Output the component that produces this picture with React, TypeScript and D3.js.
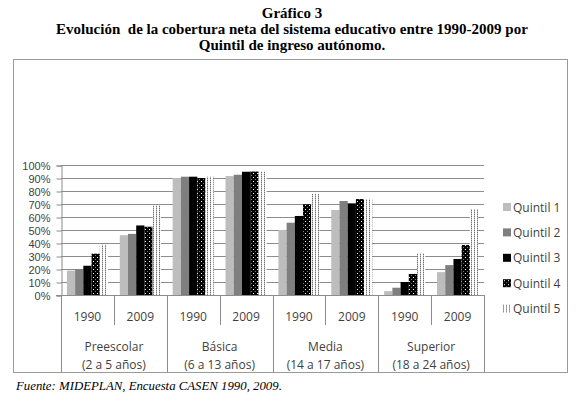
import React, { useEffect, useRef } from "react";
import * as d3 from "d3";

const levels = ["Preescolar", "Básica", "Media", "Superior"];
const levelAges = ["(2 a 5 años)", "(6 a 13 años)", "(14 a 17 años)", "(18 a 24 años)"];
const years = ["1990", "2009"];
const quintiles = ["Quintil 1", "Quintil 2", "Quintil 3", "Quintil 4", "Quintil 5"];
const yTicks = [0, 10, 20, 30, 40, 50, 60, 70, 80, 90, 100];

// one row per level/year slot, values per quintile (%)
const slotKeys = [
  "Preescolar 1990", "Preescolar 2009",
  "Básica 1990", "Básica 2009",
  "Media 1990", "Media 2009",
  "Superior 1990", "Superior 2009",
];
const quintil1 = [18.8, 46, 90, 91.5, 50, 65.4, 3, 17.6];
const quintil2 = [20, 47, 91, 92.5, 55.6, 72.3, 5.6, 23];
const quintil3 = [22.5, 53.5, 91, 94.8, 60.8, 70.5, 10, 27.7];
const quintil4 = [31.8, 52.5, 90, 95, 69.8, 73.8, 16.2, 38.5];
const quintil5 = [38.7, 69, 91, 95, 77.7, 73.8, 32, 66.2];

const seriesValues = [quintil1, quintil2, quintil3, quintil4, quintil5];
const seriesFills = ["#bdbdbd", "#7f7f7f", "#000000", "url(#pQ4)", "url(#pQ5)"];

const App = () => {
  const svgRef = useRef<SVGSVGElement>(null);

  useEffect(() => {
    drawChart();
  }, []);

  const drawChart = () => {
    const svg = d3.select(svgRef.current);
    svg.selectAll("*").remove();

    const defs = svg.append("defs");
    const p4 = defs
      .append("pattern")
      .attr("id", "pQ4")
      .attr("width", 4)
      .attr("height", 4)
      .attr("patternUnits", "userSpaceOnUse");
    p4.append("rect").attr("width", 4).attr("height", 4).attr("fill", "#000");
    p4.append("rect").attr("x", 1).attr("y", 1).attr("width", 1).attr("height", 1).attr("fill", "#fff");
    p4.append("rect").attr("x", 3).attr("y", 3).attr("width", 1).attr("height", 1).attr("fill", "#777");

    const p5 = defs
      .append("pattern")
      .attr("id", "pQ5")
      .attr("width", 3)
      .attr("height", 2)
      .attr("patternUnits", "userSpaceOnUse");
    p5.append("rect").attr("width", 3).attr("height", 2).attr("fill", "#fff");
    p5.append("rect").attr("x", 0).attr("y", 0).attr("width", 1).attr("height", 1).attr("fill", "#707070");
    p5.append("rect").attr("x", 0).attr("y", 1).attr("width", 1).attr("height", 1).attr("fill", "#c4c4c4");

    // Title
    const titleLines = [
      "Gráfico 3",
      "Evolución  de la cobertura neta del sistema educativo entre 1990-2009 por",
      "Quintil de ingreso autónomo.",
    ];
    svg
      .append("g")
      .selectAll("text")
      .data(titleLines)
      .enter()
      .append("text")
      .attr("x", 292)
      .attr("y", (d, i) => 18 + i * 16)
      .attr("text-anchor", "middle")
      .style("font-family", "'Liberation Serif', 'Times New Roman', serif")
      .style("font-weight", "bold")
      .style("font-size", "15px")
      .style("white-space", "pre")
      .text((d) => d);

    // frame
    svg
      .append("rect")
      .attr("x", 13.5)
      .attr("y", 59.5)
      .attr("width", 554)
      .attr("height", 313)
      .attr("fill", "#fff")
      .attr("stroke", "#9a9a9a");

    const left = 61;
    const right = 484;
    const top = 165;
    const bottom = 295;
    const frameBottom = 372.5;

    const x = d3.scaleBand().domain(slotKeys).range([left, right]).padding(0);
    const xq = d3.scaleBand().domain(quintiles).range([0, x.bandwidth()]).paddingInner(0).paddingOuter(0.72);
    const y = d3.scaleLinear().domain([0, 100]).range([bottom, top]);

    const textFont = "'Open Sans', 'Noto Sans', sans-serif";
    const textColor = "#3f3f3f";
    const lineColor = "#8c8c8c";

    // gridlines
    svg
      .append("g")
      .selectAll("line")
      .data(yTicks.filter((t) => t > 0))
      .enter()
      .append("line")
      .attr("x1", left)
      .attr("x2", right)
      .attr("y1", (d) => Math.round(y(d)) + 0.5)
      .attr("y2", (d) => Math.round(y(d)) + 0.5)
      .attr("stroke", lineColor);

    // y axis
    const yAxis = svg
      .append("g")
      .attr("transform", `translate(${left + 0.5},0.5)`)
      .call(
        d3
          .axisLeft(y)
          .tickValues(yTicks)
          .tickSize(5)
          .tickPadding(6)
          .tickFormat((d) => `${d}%`)
      );
    yAxis.select(".domain").attr("stroke", lineColor);
    yAxis.selectAll(".tick line").attr("stroke", lineColor);
    yAxis
      .selectAll("text")
      .style("font-family", "'Liberation Sans', Arial, sans-serif")
      .style("font-size", "11px")
      .attr("fill", textColor);

    // bars
    const barData = slotKeys.flatMap((k, si) =>
      quintiles.map((q, qi) => ({ slot: k, q, qi, value: seriesValues[qi][si] }))
    );
    svg
      .append("g")
      .selectAll("rect")
      .data(barData)
      .enter()
      .append("rect")
      .attr("x", (d) => x(d.slot)! + xq(d.q)!)
      .attr("width", xq.bandwidth())
      .attr("y", (d) => y(d.value))
      .attr("height", (d) => y(0) - y(d.value))
      .attr("fill", (d) => seriesFills[d.qi]);

    // category axis lines
    const axisG = svg.append("g");
    axisG
      .append("line")
      .attr("x1", left - 5)
      .attr("x2", right)
      .attr("y1", bottom + 0.5)
      .attr("y2", bottom + 0.5)
      .attr("stroke", lineColor);
    const boundaries = d3.range(slotKeys.length + 1);
    axisG
      .selectAll("line.sep")
      .data(boundaries)
      .enter()
      .append("line")
      .attr("class", "sep")
      .attr("x1", (d) => Math.round(left + d * x.step()) + 0.5)
      .attr("x2", (d) => Math.round(left + d * x.step()) + 0.5)
      .attr("y1", bottom)
      .attr("y2", (d) => (d % 2 === 0 ? frameBottom : 325))
      .attr("stroke", lineColor);

    // year labels
    svg
      .append("g")
      .selectAll("text")
      .data(slotKeys)
      .enter()
      .append("text")
      .attr("x", (d) => x(d)! + x.bandwidth() / 2)
      .attr("y", 321)
      .attr("text-anchor", "middle")
      .style("font-family", textFont)
      .style("font-size", "12px")
      .attr("fill", textColor)
      .text((d, i) => years[i % 2]);

    // level labels
    const lg = svg
      .append("g")
      .selectAll("g")
      .data(levels)
      .enter()
      .append("g")
      .attr("transform", (d, i) => `translate(${left + (i * 2 + 1) * x.step()},0)`);
    lg.append("text")
      .attr("y", 351)
      .attr("text-anchor", "middle")
      .style("font-family", textFont)
      .style("font-size", "12px")
      .attr("fill", textColor)
      .text((d) => d);
    lg.append("text")
      .attr("y", 369)
      .attr("text-anchor", "middle")
      .style("font-family", textFont)
      .style("font-size", "12px")
      .attr("fill", textColor)
      .text((d, i) => levelAges[i]);

    // legend
    const legend = svg
      .append("g")
      .selectAll("g")
      .data(quintiles)
      .enter()
      .append("g")
      .attr("transform", (d, i) => `translate(503,${207 + i * 25.4})`);
    legend
      .append("rect")
      .attr("x", 0)
      .attr("y", -4)
      .attr("width", 8)
      .attr("height", 8)
      .attr("fill", (d, i) => seriesFills[i]);
    legend
      .append("text")
      .attr("x", 10)
      .attr("y", 4.5)
      .style("font-family", textFont)
      .style("font-size", "12px")
      .attr("fill", textColor)
      .text((d) => d);

    // source
    svg
      .append("text")
      .attr("x", 16)
      .attr("y", 390)
      .style("font-family", "'Liberation Serif', 'Times New Roman', serif")
      .style("font-style", "italic")
      .style("font-size", "12.8px")
      .text("Fuente: MIDEPLAN, Encuesta CASEN 1990, 2009.");
  };

  return (
    <svg
      ref={svgRef}
      width={580}
      height={396}
      style={{ position: "absolute", left: 0, top: 0, background: "#fff" }}
    ></svg>
  );
};

export default App;
